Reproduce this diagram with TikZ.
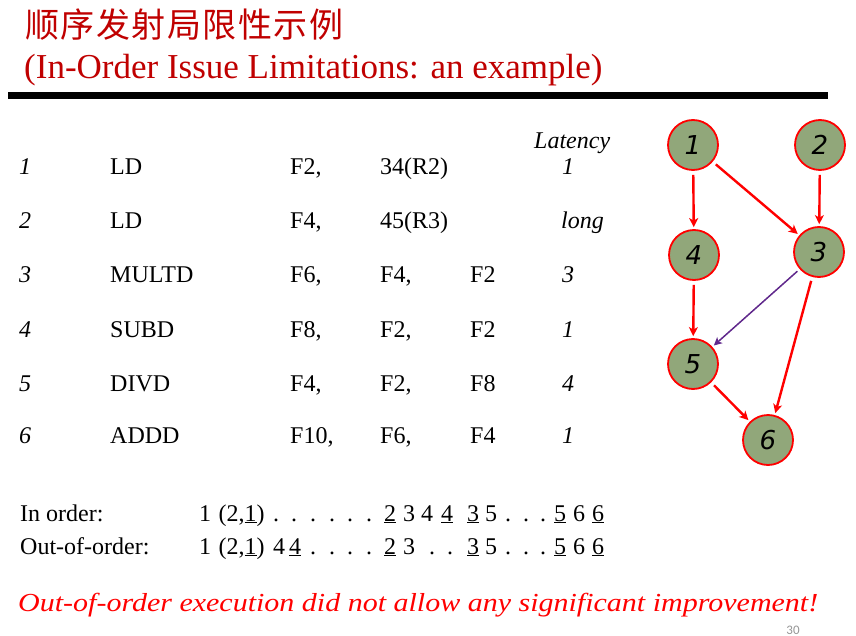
\documentclass[tikz,border=0pt]{standalone}
\usepackage{fontspec}
\setmainfont{Liberation Serif}
\newfontfamily\cjk{Noto Sans CJK SC}
\newfontfamily\gfont{DejaVu Sans}
\newfontfamily\pgfont{Carlito}
\usetikzlibrary{arrows.meta}
\definecolor{titlered}{RGB}{192,0,0}
\definecolor{nodegreen}{RGB}{145,167,122}
\definecolor{edgepurple}{RGB}{96,40,140}
\definecolor{pagegray}{RGB}{150,150,150}
\tikzset{
  txt/.style={anchor=base west, inner sep=0pt, font=\fontsize{24}{28}\selectfont},
  itxt/.style={anchor=base west, inner sep=0pt, font=\itshape\fontsize{24}{28}\selectfont},
  seq/.style={anchor=base, inner sep=0pt, font=\fontsize{24}{28}\selectfont},
  gnode/.style={circle, draw=red, line width=1.8pt, fill=nodegreen, minimum size=50pt, inner sep=0pt,
    font=\gfont\itshape\fontsize{26}{30}\selectfont},
  redarrow/.style={draw=red, line width=2.4pt, -{Stealth[length=9pt,width=9pt,inset=2.5pt]}, shorten <=4pt, shorten >=2pt},
  purplearrow/.style={draw=edgepurple, line width=1.5pt, -{Stealth[length=8pt,width=8pt,inset=2pt]}, shorten <=3pt, shorten >=2pt}
}
\begin{document}
\begin{tikzpicture}[x=1pt,y=-1pt]
\useasboundingbox[fill=white] (0,0) rectangle (856,636);
% titles
\node[anchor=base west, inner sep=0pt, text=titlered, font=\cjk\fontsize{34}{36}\selectfont] (t1) at (25,38) {顺\hspace{1.5pt}序\hspace{1.5pt}发\hspace{1.5pt}射\hspace{1.5pt}局\hspace{1.5pt}限\hspace{1.5pt}性\hspace{1.5pt}示\hspace{1.5pt}例};
\node[anchor=base west, inner sep=0pt, text=titlered, font=\fontsize{35}{40}\selectfont] (t2) at (24,79) {(In-Order Issue Limitations: an example)};
\fill[black] (8,92) rectangle (828,99);
% table
\node[itxt] (lat) at (534,149) {Latency};
% row 1
\node[itxt] (num1) at (19,175) {1};
\node[txt] (op1) at (110,175) {LD};
\node[txt] (a1) at (290,175) {F2,};
\node[txt] (b1) at (380,175) {34(R2)};
\node[itxt] (l1) at (562,175) {1};
% row 2
\node[itxt] (num2) at (19,229) {2};
\node[txt] (op2) at (110,229) {LD};
\node[txt] (a2) at (290,229) {F4,};
\node[txt] (b2) at (380,229) {45(R3)};
\node[itxt] (l2) at (561,229) {long};
% row 3
\node[itxt] (num3) at (19,283) {3};
\node[txt] (op3) at (110,283) {MULTD};
\node[txt] (a3) at (290,283) {F6,};
\node[txt] (b3) at (380,283) {F4,};
\node[txt] (c3) at (470,283) {F2};
\node[itxt] (l3) at (562,283) {3};
% row 4
\node[itxt] (num4) at (19,337) {4};
\node[txt] (op4) at (110,337) {SUBD};
\node[txt] (a4) at (290,337) {F8,};
\node[txt] (b4) at (380,337) {F2,};
\node[txt] (c4) at (470,337) {F2};
\node[itxt] (l4) at (562,337) {1};
% row 5
\node[itxt] (num5) at (19,391) {5};
\node[txt] (op5) at (110,391) {DIVD};
\node[txt] (a5) at (290,391) {F4,};
\node[txt] (b5) at (380,391) {F2,};
\node[txt] (c5) at (470,391) {F8};
\node[itxt] (l5) at (562,391) {4};
% row 6
\node[itxt] (num6) at (19,443) {6};
\node[txt] (op6) at (110,443) {ADDD};
\node[txt] (a6) at (290,443) {F10,};
\node[txt] (b6) at (380,443) {F6,};
\node[txt] (c6) at (470,443) {F4};
\node[itxt] (l6) at (562,443) {1};
% sequences
\node[txt] (inorder) at (20,521) {In order:};
\node[txt] (ooo) at (20,554) {Out-of-order:};
\foreach \x/\t [count=\i] in {205/1, 241.5/{(2,\underline{1})}, 276/., 294/., 313/., 332/., 350/., 369/.,
  390/\underline{2}, 409/3, 427/4, 447/\underline{4}, 473/\underline{3}, 491/5, 508/., 526/., 543/.,
  560/\underline{5}, 579/6, 598/\underline{6}}{
  \node[seq] (s\i) at (\x,521) {\t};
}
\foreach \x/\t [count=\i] in {205/1, 241.5/{(2,\underline{1})}, 279/4, 295/\underline{4}, 313/., 332/., 350/., 369/.,
  390/\underline{2}, 409/3, 432/., 450/., 473/\underline{3}, 491/5, 508/., 526/., 543/.,
  560/\underline{5}, 579/6, 598/\underline{6}}{
  \node[seq] (u\i) at (\x,554) {\t};
}
% graph
\node[gnode] (g1) at (693,145) {1};
\node[gnode] (g2) at (820,145) {2};
\node[gnode] (g4) at (694,255) {4};
\node[gnode] (g3) at (819,252) {3};
\node[gnode] (g5) at (693,364) {5};
\node[gnode] (g6) at (768,440) {6};
\draw[redarrow] (g1) -- (g4);
\draw[redarrow] (g1) -- (g3);
\draw[redarrow] (g2) -- (g3);
\draw[redarrow] (g4) -- (g5);
\draw[purplearrow] (g3) -- (g5);
\draw[redarrow] (g5) -- (g6);
\draw[redarrow] (g3) -- (g6);
% conclusion
\node[anchor=base west, inner sep=0pt, text=red, font=\itshape\fontsize{26}{30}\selectfont] (concl) at (18,611)
  {\resizebox{800pt}{\height}{Out-of-order execution did not allow any significant improvement!}};
\node[anchor=base, inner sep=0pt, text=pagegray, font=\pgfont\fontsize{13}{15}\selectfont] (page) at (793,634) {30};
\end{tikzpicture}
\end{document}
